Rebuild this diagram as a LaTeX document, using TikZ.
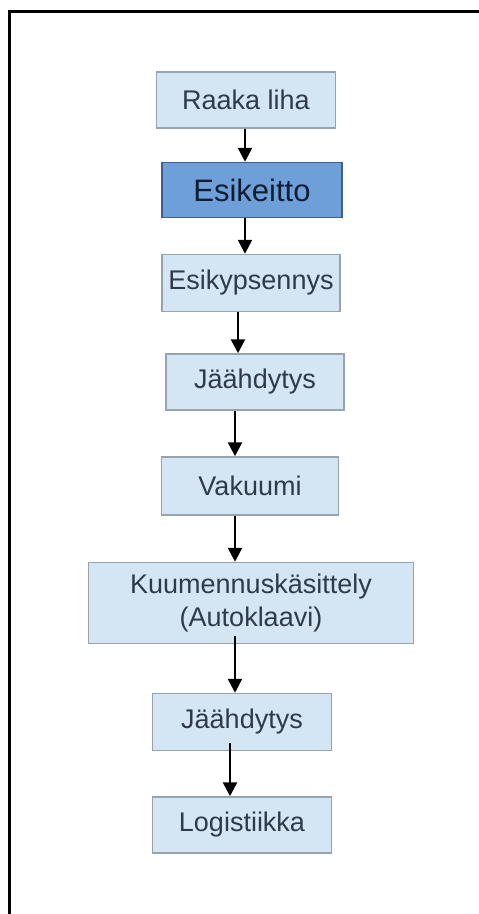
\documentclass[tikz,border=0pt]{standalone}
\usepackage{fontspec}
\setmainfont{Liberation Sans}
\usetikzlibrary{arrows.meta}
\definecolor{boxfill}{RGB}{212,230,244}
\definecolor{boxline}{RGB}{150,164,176}
\definecolor{boxtext}{RGB}{47,58,74}
\definecolor{hotfill}{RGB}{111,159,216}
\definecolor{hotline}{RGB}{61,95,140}
\definecolor{hottext}{RGB}{15,31,51}

\begin{document}
\begin{tikzpicture}[x=1pt,y=-1pt]
	 \useasboundingbox (0,0) rectangle (479,914);
	 \tikzstyle{stage}=[rectangle,draw=boxline,fill=boxfill,line width=1.5pt,inner sep=0pt,
	   minimum width=179pt,minimum height=56pt,text=boxtext,align=center,
	   font=\fontsize{27}{33}\selectfont]
	 \tikzstyle{hotstage}=[stage,draw=hotline,fill=hotfill,text=hottext,
	   font=\fontsize{31}{34}\selectfont]
	 \tikzstyle{edge}=[draw,line width=2.5pt,-{Triangle[width=14pt,length=14pt]},black]
	 % frame
	 \draw[line width=3pt] (479,11) -- (9,11) -- (9,914);
	 \node[stage] (liha) at (246,100) {Raaka liha};
	 \node[hotstage,minimum width=180pt,minimum height=55pt] (keitto) at (252,190) {Esikeitto};
	 \node[stage,minimum width=178pt,minimum height=57pt] (kypsennys) at (251,283) {Esikypsennys};
	 \node[stage,minimum width=178pt] (jaah1) at (255,382) {Jäähdytys};
	 \node[stage,minimum width=177pt,minimum height=58pt] (vakuumi) at (250,486) {Vakuumi};
	 \node[stage,minimum width=325pt,minimum height=81pt] (autoklaavi) at (251,603) {Kuumennuskäsittely\\(Autoklaavi)};
	 \node[stage,minimum height=57pt] (jaah2) at (242,722) {Jäähdytys};
	 \node[stage,minimum height=56pt] (logistiikka) at (242,825) {Logistiikka};
	 \draw[edge] ([xshift=-1pt]liha.south) -- ([xshift=-7pt]keitto.north);
	 \draw[edge] ([xshift=-7pt]keitto.south) -- ([xshift=-6pt]kypsennys.north);
	 \draw[edge] ([xshift=-13pt]kypsennys.south) -- ([xshift=-17pt]jaah1.north);
	 \draw[edge] ([xshift=-20pt]jaah1.south) -- ([xshift=-15pt]vakuumi.north);
	 \draw[edge] ([xshift=-15pt]vakuumi.south) -- ([xshift=-16pt]autoklaavi.north);
	 \draw[edge] ([xshift=-16pt,yshift=8pt]autoklaavi.south) -- ([xshift=-7pt]jaah2.north);
	 \draw[edge] ([xshift=-12pt,yshift=8pt]jaah2.south) -- ([xshift=-12pt]logistiikka.north);
\end{tikzpicture}
\end{document}
